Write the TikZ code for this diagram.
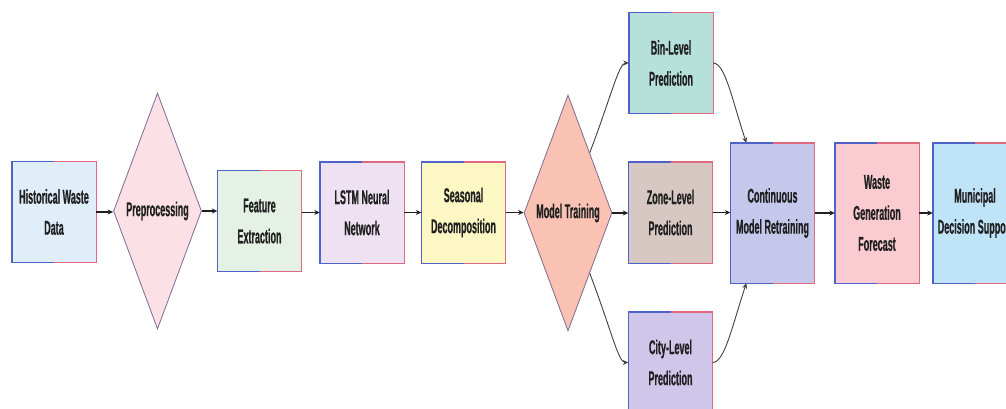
\documentclass[tikz,border=0pt]{standalone}
\usepackage{fontspec}
\usetikzlibrary{shapes.geometric,arrows.meta,calc}
\newfontfamily\nfont[FakeStretch=0.45,FakeBold=0.6]{Liberation Sans Bold}
\definecolor{bblue}{HTML}{4F62C8}
\definecolor{bred}{HTML}{E0687F}
\definecolor{dline}{HTML}{7E6A96}
\definecolor{txt}{HTML}{202020}
\definecolor{cHist}{HTML}{E0EEFA}
\definecolor{cPre}{HTML}{FBE1E6}
\definecolor{cFeat}{HTML}{E4F1E4}
\definecolor{cLstm}{HTML}{EEE1F2}
\definecolor{cSeas}{HTML}{FDF8C3}
\definecolor{cMt}{HTML}{F9C2B2}
\definecolor{cBin}{HTML}{B6E0DA}
\definecolor{cZone}{HTML}{D8C8C3}
\definecolor{cCity}{HTML}{CFC6EA}
\definecolor{cCont}{HTML}{C5C8EA}
\definecolor{cWaste}{HTML}{FBCBD2}
\definecolor{cMun}{HTML}{BFE3F7}
\tikzset{
  lbl/.style={font=\nfont\fontsize{20}{31}\selectfont, text=txt, align=center},
  stepbox/.style={lbl, rectangle, fill=#1, minimum width=84pt, minimum height=101pt, inner sep=0pt},
  tallbox/.style={lbl, rectangle, fill=#1, minimum width=84pt, minimum height=140pt, inner sep=0pt},
  decide/.style={lbl, diamond, fill=#1, draw=dline, line width=0.8pt, minimum width=88pt, minimum height=236pt, inner sep=0pt},
  arr/.style={draw=txt, line width=1.2pt, -{Stealth[length=5.5pt,width=5pt]}},
  carr/.style={draw=txt!85, line width=0.9pt, -{Stealth[length=5.5pt,width=5pt]}},
}
\begin{document}
\begin{tikzpicture}[x=1pt,y=-1pt]
\useasboundingbox (0,0) rectangle (1006,409);
\clip (0,0) rectangle (1006,409);
\fill[white] (0,0) rectangle (1006,409);
\node[stepbox=cHist] (hist) at (54,212) {Historical Waste\\Data};
\node[decide=cPre] (pre) at (157.5,211) {Preprocessing};
\node[stepbox=cFeat] (feat) at (259.5,221) {Feature\\Extraction};
\node[stepbox=cLstm] (lstm) at (362,212.5) {LSTM Neural\\Network};
\node[stepbox=cSeas] (seas) at (463.5,212.5) {Seasonal\\Decomposition};
\node[decide=cMt] (mt) at (568,213) {Model Training};
\node[stepbox=cBin] (bin) at (671,63) {Bin-Level\\Prediction};
\node[stepbox=cZone] (zone) at (670.5,212.5) {Zone-Level\\Prediction};
\node[stepbox=cCity] (city) at (670.5,362.5) {City-Level\\Prediction};
\node[tallbox=cCont] (cont) at (772.5,213) {Continuous\\Model Retraining};
\node[tallbox=cWaste] (waste) at (877,213) {Waste\\Generation\\Forecast};
\node[tallbox=cMun] (mun) at (975,213) {Municipal\\Decision Support};
\foreach \n in {hist,feat,lstm,seas,bin,zone,city,cont,waste,mun}{
  \draw[bblue, line width=1.4pt, line join=miter] (\n.north) -- (\n.north west) -- (\n.south west) -- (\n.south);
  \draw[bred, line width=1.4pt, line join=miter] (\n.north) -- (\n.north east) -- (\n.south east) -- (\n.south);
}
% straight connectors
\draw[arr] (hist.east) -- (hist.east -| pre.west);
\draw[arr] (pre.east) -- (pre.east -| feat.west);
\draw[arr] (feat.east |- lstm.west) -- (lstm.west);
\draw[arr] (lstm.east) -- (seas.west);
\draw[arr] (seas.east) -- (seas.east -| mt.west);
\draw[arr] (mt.east) -- (mt.east -| zone.west);
\draw[arr] (zone.east) -- (zone.east -| cont.west);
\draw[arr] (cont.east) -- (waste.west);
\draw[arr] (waste.east) -- (mun.west);
% curved connectors
\coordinate (mtu) at ($(mt.north)!0.49!(mt.east)$);
\coordinate (mtd) at ($(mt.south)!0.49!(mt.east)$);
\coordinate (ctop) at ($(cont.north west)!0.19!(cont.north east)$);
\coordinate (cbot) at ($(cont.south west)!0.19!(cont.south east)$);
\draw[carr] (mtu) .. controls ($(mtu)+(20,-52)$) and ($(bin.west)+(-10,0)$) .. (bin.west);
\draw[carr] (mtd) .. controls ($(mtd)+(20,52)$) and ($(city.west)+(-10,0)$) .. (city.west);
\draw[carr] (bin.east) .. controls ($(bin.east)+(12,0)$) and ($(ctop)+(-14,-42)$) .. (ctop);
\draw[carr] (city.east) .. controls ($(city.east)+(12,0)$) and ($(cbot)+(-14,42)$) .. (cbot);
\end{tikzpicture}
\end{document}
